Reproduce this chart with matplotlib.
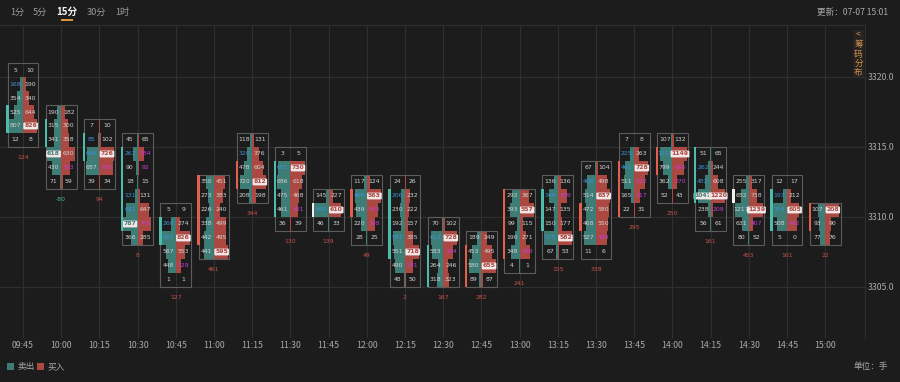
import matplotlib
matplotlib.use("Agg")
import matplotlib.pyplot as plt
from matplotlib.patches import Rectangle

plt.rcParams['font.family'] = ['Noto Sans CJK SC', 'DejaVu Sans']

times = ['09:45', '10:00', '10:15', '10:30', '10:45', '11:00', '11:15', '11:30', '11:45', '12:00', '12:15',
         '12:30', '12:45', '13:00', '13:15', '13:30', '13:45', '14:00', '14:15', '14:30', '14:45', '15:00']
top_price = [3320, 3317, 3316, 3315, 3310, 3312, 3315, 3314, 3311, 3312, 3312,
             3309, 3308, 3311, 3312, 3313, 3315, 3315, 3314, 3312, 3312, 3310]
sells = [
    [5, 168, 354, 525, 807, 12],
    [190, 315, 341, 618, 430, 71],
    [7, 85, 646, 687, 39],
    [45, 262, 90, 18, 131, 621, 787, 366],
    [5, 268, 807, 567, 448, 1],
    [350, 273, 226, 338, 442, 441],
    [118, 320, 478, 720, 208],
    [3, 651, 686, 475, 461, 36],
    [145, 690, 46],
    [117, 466, 439, 220, 28],
    [24, 206, 230, 192, 597, 551, 490, 48],
    [70, 612, 583, 264, 318],
    [189, 453, 580, 89],
    [292, 393, 99, 190, 348, 4],
    [136, 346, 147, 150, 575, 67],
    [67, 408, 514, 472, 468, 527, 11],
    [7, 225, 461, 511, 165, 22],
    [107, 1011, 799, 362, 52],
    [51, 262, 482, 1047, 238, 56],
    [255, 682, 1217, 631, 80],
    [12, 193, 704, 508, 5],
    [107, 93, 77],
]
buys = [
    [10, 190, 340, 644, 826, 8],
    [182, 300, 358, 630, 393, 59],
    [10, 102, 726, 680, 34],
    [65, 384, 92, 15, 131, 647, 766, 285],
    [9, 274, 826, 553, 329, 1],
    [451, 383, 240, 499, 495, 595],
    [131, 376, 604, 812, 198],
    [5, 730, 618, 468, 401, 39],
    [227, 610, 33],
    [124, 563, 443, 308, 25],
    [26, 232, 222, 157, 385, 718, 381, 50],
    [102, 728, 504, 246, 323],
    [249, 495, 655, 87],
    [367, 557, 115, 271, 399, 1],
    [136, 399, 135, 177, 582, 53],
    [104, 498, 637, 580, 550, 498, 6],
    [8, 263, 728, 532, 317, 31],
    [132, 1149, 906, 370, 43],
    [65, 244, 608, 1220, 209, 61],
    [317, 738, 1239, 407, 52],
    [17, 212, 605, 492, 0],
    [208, 90, 76],
]
# flags: b = sell imbalance, p = buy imbalance, w = max marker
sell_flags = [
    '.b....', '...w..', '.bb..', '.b..bbw.', '.bb...', '......', '.b...', '.b....', '.b.', '.b...',
    '.b..b...', '.b...', '....', '......', '.b..b.', '.b.....', '.bb...', '.b...', '.bbw..', '.....',
    '.bb..', '...',
]
buy_flags = [
    '....w.', '....p.', '..wp.', '.pp...p.', '..w.p.', '.....w', '...w.', '.w..p.', '.w.', '.wpp.',
    '.....wp.', '.wp..', '..w.', '.w..p.', '.p..w.', '..w..p.', '..wpp.', '.wpp.', '...wp.', '..wp.',
    '..wp.', 'w..',
]
body_low = [3316, 3315, 3314, 3309, 3308, 3308, 3312, 3310, 3310, 3310, 3307,
            3305, 3305, 3307, 3309, 3309, 3310, 3313, 3311, 3311, 3309, 3309]
body_high = [3318, 3317, 3316, 3315, 3310, 3313, 3314, 3314, 3311, 3312, 3312,
             3308, 3308, 3312, 3312, 3311, 3314, 3315, 3315, 3312, 3312, 3311]
body_kind = ['s', 's', 's', 's', 's', 'b', 'b', 's', 'n', 'b', 's',
             's', 'b', 'b', 's', 'b', 'b', 'b', 's', 'n', 's', 'b']
deltas = ['124', '-80', '94', '8', '127', '461', '344', '130', '139', '49', '2',
          '167', '282', '241', '155', '338', '295', '250', '161', '453', '161', '22']
y_ticks = [3305, 3310, 3315, 3320]
periods = ['1分', '5分', '15分', '30分', '1时']

BG = '#1c1c1c'
GRID = '#2f2f2f'
TEAL = '#3e7d75'
RED = '#aa4841'
TEAL_B = '#4dbcab'
RED_B = '#e2604e'
TXT = '#d2d2d2'
BLUE = '#3b91d8'
PURP = '#c43fd2'

W, H = 900, 382
fig = plt.figure(figsize=(W / 100, H / 100), dpi=100, facecolor=BG)
ax = fig.add_axes([0, (H - 338) / H, 865 / W, (338 - 25) / H])
ax.set_facecolor(BG)
ax.set_xlim(-23 / 38.2, (865 - 23) / 38.2)
ax.set_ylim(3320 - 261 / 14, 3320 + 52 / 14)

for s in ['left', 'bottom']:
    ax.spines[s].set_visible(False)
for s in ['top', 'right']:
    ax.spines[s].set_color(GRID)
    ax.spines[s].set_linewidth(0.8)

ax.set_xticks(range(len(times)))
ax.set_xticklabels(times)
ax.set_yticks(y_ticks)
ax.set_yticklabels([f'{v:.1f}' for v in y_ticks])
ax.yaxis.tick_right()
ax.tick_params(axis='both', length=0, colors='#a8a8a8', labelsize=6.3)
ax.tick_params(axis='x', pad=2)
ax.tick_params(axis='y', pad=2)
ax.grid(True, color=GRID, linewidth=0.8)
ax.set_axisbelow(True)

hw = 0.405
maxw = 0.37
for i in range(len(times)):
    s_vals, b_vals = sells[i], buys[i]
    n = len(s_vals)
    vmax = max(max(s_vals), max(b_vals))
    for r in range(n):
        lo = top_price[i] - r
        sw = s_vals[r] / vmax * maxw
        bw = b_vals[r] / vmax * maxw
        ax.add_patch(Rectangle((i - sw, lo + 0.03), sw, 0.94, fc=TEAL, ec='none', zorder=2))
        ax.add_patch(Rectangle((i, lo + 0.03), bw, 0.94, fc=RED, ec='none', zorder=2))
        yc = lo + 0.5
        for val, flag, xo, side in ((s_vals[r], sell_flags[i][r], -0.2, 's'), (b_vals[r], buy_flags[i][r], 0.2, 'b')):
            kw = dict(ha='center', va='center', fontsize=4.4, zorder=4, family='DejaVu Sans')
            if flag == 'w':
                kw['color'] = TEAL if side == 's' else RED
                kw['bbox'] = dict(boxstyle='round,pad=0.15', fc='#f3e6e6', ec='none')
                kw['fontweight'] = 'bold'
            elif flag == 'b':
                kw['color'] = BLUE
            elif flag == 'p':
                kw['color'] = PURP
            else:
                kw['color'] = TXT
            ax.text(i + xo, yc, str(val), **kw)
    bottom = top_price[i] - n + 1
    ax.add_patch(Rectangle((i - hw, bottom), 2 * hw, n, fc='none', ec='#5c5c5c', lw=0.8, zorder=3))
    bc = {'s': TEAL_B, 'b': RED_B, 'n': '#f0f0f0'}[body_kind[i]]
    ax.add_patch(Rectangle((i - hw - 0.03, body_low[i]), 0.065, body_high[i] - body_low[i],
                           fc=bc, ec='none', zorder=5))
    dc = TEAL_B if deltas[i].startswith('-') else '#c8524a'
    ax.text(i, bottom - 0.72, deltas[i], ha='center', va='center', fontsize=4.4, color=dc,
            family='DejaVu Sans')

# top period selector
px = [17, 40, 67, 96, 122]
for p, x in zip(periods, px):
    sel = p == '15分'
    fig.text(x / W, 1 - 12 / H, p, ha='center', va='center', fontsize=7 if sel else 6.6,
             color='#f2f2f2' if sel else '#9a9a9a', fontweight='bold' if sel else 'normal')
fig.add_artist(plt.Line2D([62 / W, 72 / W], [1 - 20 / H, 1 - 20 / H], color='#e09a3c', lw=1.4))
fig.text(888 / W, 1 - 12 / H, '更新：07-07 15:01', ha='right', va='center', fontsize=6.2, color='#a8a8a8')

# side tab
fig.add_artist(Rectangle((853 / W, 1 - 77 / H), 11 / W, 47 / H, fc='#262320', ec='none'))
for ch, y in zip(['<', '筹', '码', '分', '布'], [35, 45, 54, 63, 72]):
    fig.text(858.5 / W, 1 - y / H, ch, ha='center', va='center', fontsize=6.2, color='#d0924c')

# legend
fig.add_artist(Rectangle((7 / W, 1 - 370 / H), 7 / W, 7 / H, fc=TEAL, ec='none'))
fig.text(17 / W, 1 - 366.5 / H, '卖出', ha='left', va='center', fontsize=6.2, color='#a8a8a8')
fig.add_artist(Rectangle((37 / W, 1 - 370 / H), 7 / W, 7 / H, fc=RED, ec='none'))
fig.text(47 / W, 1 - 366.5 / H, '买入', ha='left', va='center', fontsize=6.2, color='#a8a8a8')
fig.text(888 / W, 1 - 366.5 / H, '单位：手', ha='right', va='center', fontsize=6.2, color='#a8a8a8')

fig.savefig('out.png', dpi=100, facecolor=BG)
